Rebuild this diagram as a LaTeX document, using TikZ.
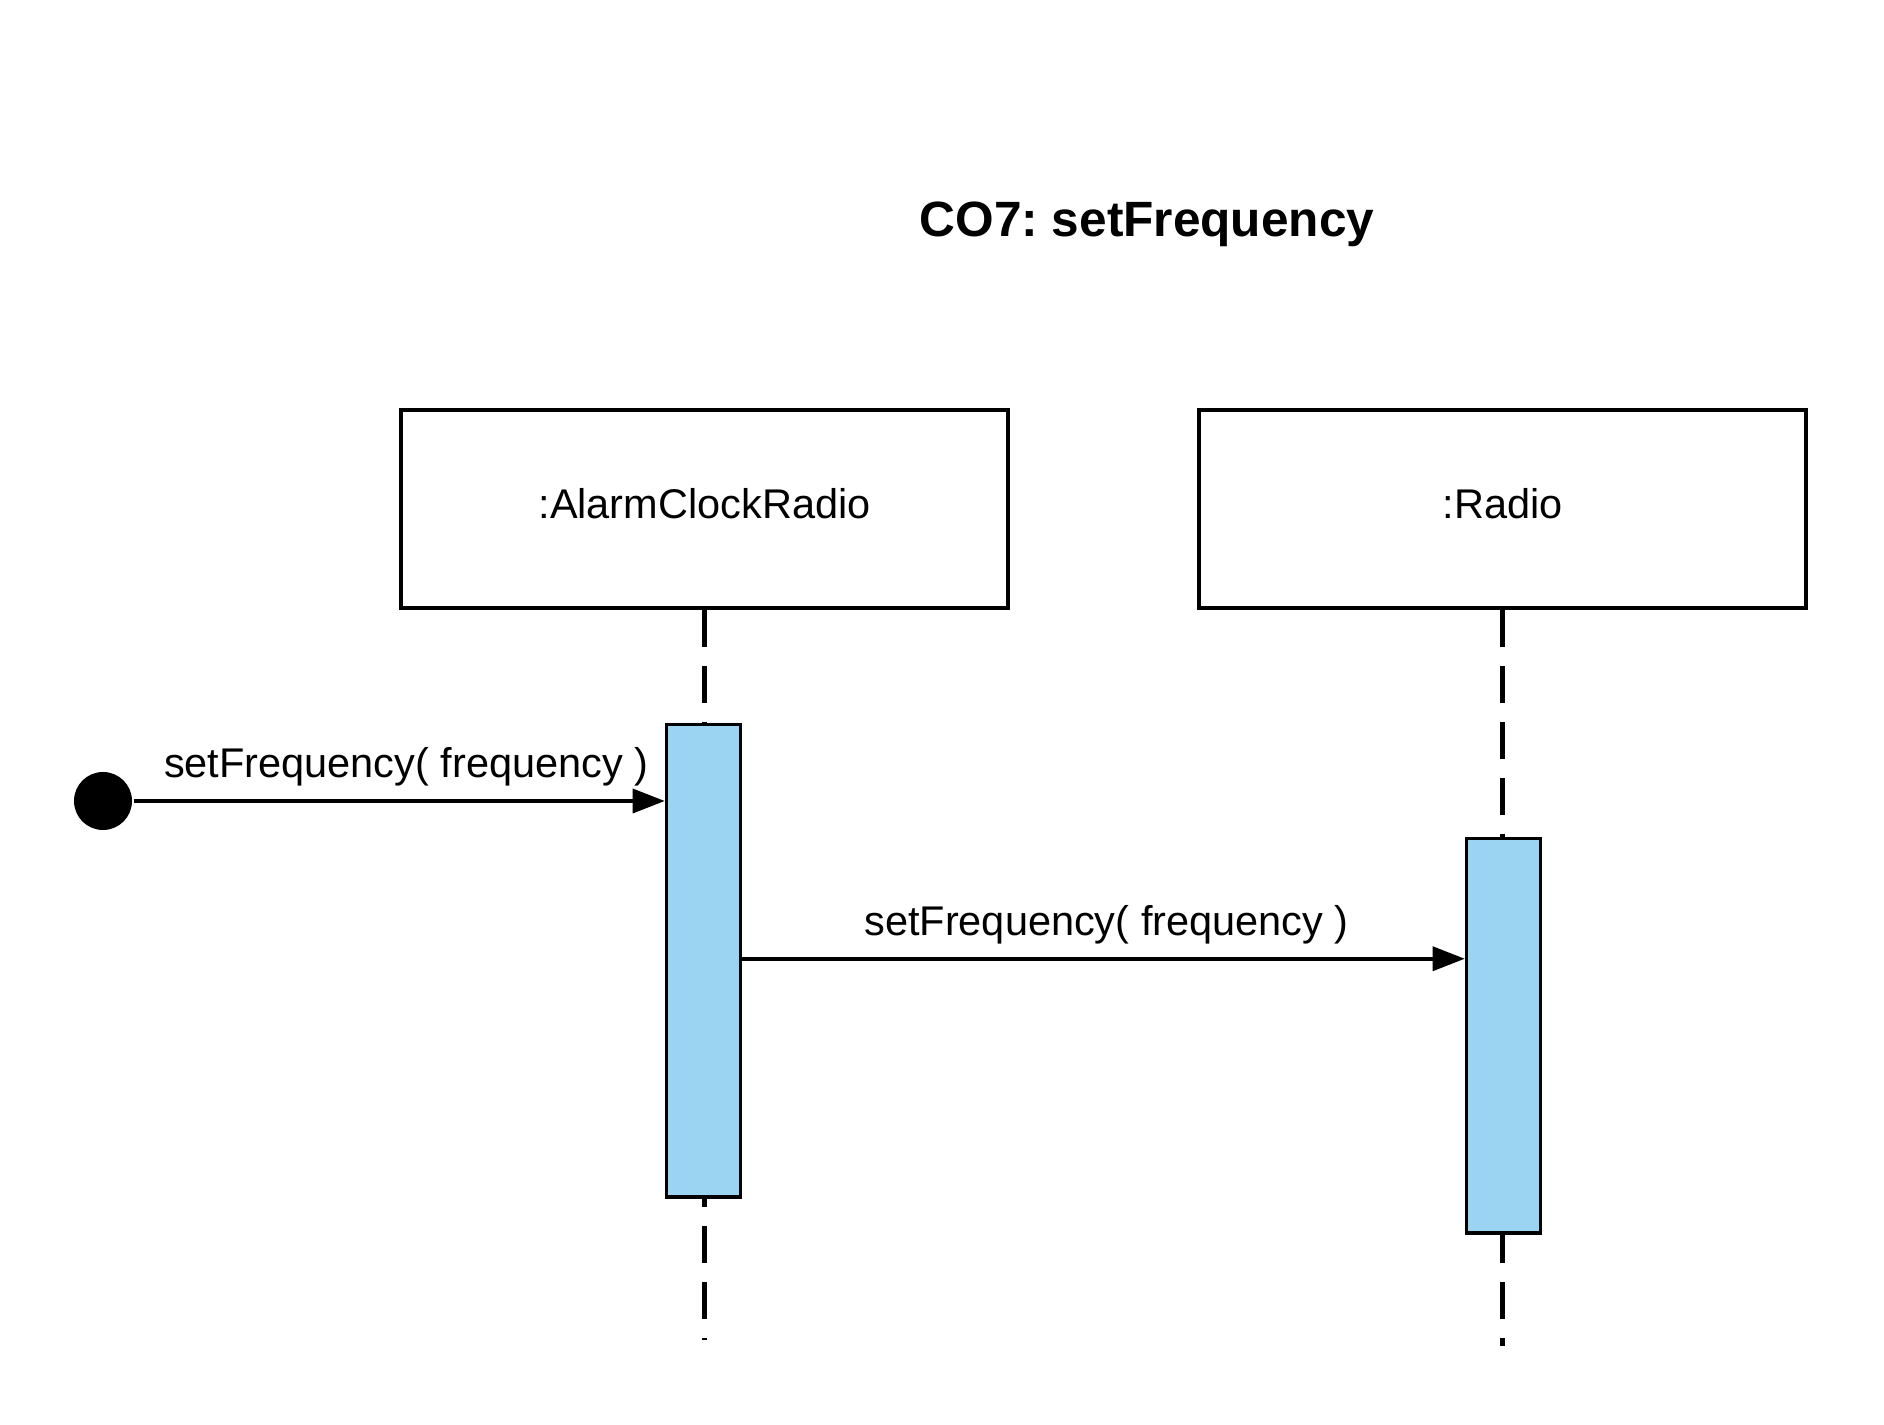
\documentclass[tikz,border=0pt]{standalone}
\usepackage{fontspec}
\setmainfont{Liberation Sans}
\usetikzlibrary{arrows.meta}
\definecolor{actblue}{RGB}{155,211,242}
\frenchspacing

\begin{document}
\begin{tikzpicture}[x=0.01cm, y=-0.01cm, line width=1pt,
  lbl/.style={font=\fontsize{11.8}{14}\selectfont},
  objbox/.style={draw, lbl, text depth=0.3em, minimum width=6.07cm, minimum height=1.98cm},
  actbar/.style={draw, fill=actblue, minimum width=0.74cm, inner sep=0pt},
  lifeline/.style={line width=1.4pt, dash pattern=on 0.37cm off 0.19cm},
  msg/.style={-{Triangle[length=0.32cm, width=0.24cm]}}]
  \useasboundingbox (0,0) rectangle (1884,1425);
  \node[font=\fontsize{14.1}{17}\selectfont\bfseries] (ttl) at (1147,224) {CO7: setFrequency};
  % objects and lifelines
  \node[objbox] (acr) at (704.5,509) {:AlarmClockRadio};
  \node[objbox] (rad) at (1502.5,509) {:Radio};
  \coordinate (acrend) at (704.5,1340);
  \coordinate (radend) at (1502.5,1346);
  \draw[lifeline] (acr.south) -- (acrend);
  \draw[lifeline] (rad.south) -- (radend);
  \node[actbar, minimum height=4.72cm] (acract) at (703.5,960.75) {};
  \node[actbar, minimum height=3.94cm] (radact) at (1503.5,1035.8) {};
  % messages
  \node[circle, fill, inner sep=0pt, minimum size=0.58cm] (start) at (103,801) {};
  \draw[msg] (start.east) -- (start -| acract.west)
    node[midway, above, lbl, yshift=0.3pt, xshift=0.07cm] (m1) {setFrequency( frequency )};
  \draw[msg] ([yshift=0.02cm]acract.east) -- ([yshift=0.02cm]acract.east -| radact.west)
    node[midway, above, lbl, yshift=0.3pt, xshift=0.03cm] (m2) {setFrequency( frequency )};
\end{tikzpicture}
\end{document}
